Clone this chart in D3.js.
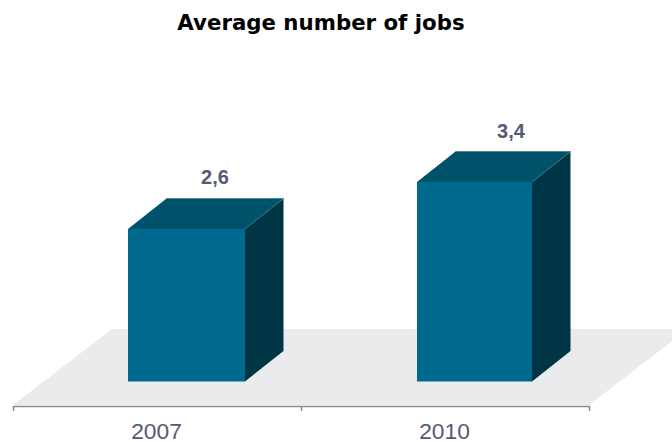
<!DOCTYPE html>
<html>
<head>
<meta charset="utf-8">
<script src="https://cdn.jsdelivr.net/npm/d3@7"></script>
<style>
html,body{margin:0;padding:0;background:#fff;overflow:hidden;}
svg{display:block;}
</style>
</head>
<body>
<svg id="chart" width="672" height="442"></svg>
<script>
const titleText = "Average number of jobs";
const years = ["2007", "2010"];
const averages = [2.6, 3.4];
const valueLabels = ["2,6", "3,4"];

const palette = {
  front: "#006a8e", top: "#00526b", side: "#003546",
  edge: "#3d7488", floor: "#eaebed", axis: "#868a93", text: "#535b72"
};

const svg = d3.select("#chart");

// Oblique projection: the depth of the 3D scene shifts marks up and to the right
const depth = { dx: 38.5, dy: -30.5 };
const axisY = 406;

const x = d3.scaleBand().domain(years).range([13.5, 589.5]);
const y = d3.scaleLinear().domain([0, 3.4]).range([381.5, 182]);

// Bar faces narrow slightly toward the right of the scene
const barLeft = d3.scalePoint().domain(years).range([128, 417]);
const barRight = d3.scalePoint().domain(years).range([245, 532]);

// Value labels drift right with bar height
const labelShift = d3.scaleLinear().domain(averages).range([57.5, 65.5]);

// Floor plane, running off the right of the canvas
const [x0, x1] = x.range();
svg.append("path")
  .attr("d", d3.line()([[x0 - 0.5, axisY - 1], [x0 + 98.5, 329], [x1 + 98.5, 329], [x1 - 0.5, axisY - 1]]) + "Z")
  .attr("fill", palette.floor);

// Bars: side, top and front faces
const bars = svg.selectAll("g.bar")
  .data(years.map((year, i) => ({ year, value: averages[i], label: valueLabels[i] })))
  .join("g").attr("class", "bar");

const face = d3.line();

bars.append("path")
  .attr("d", d => {
    const r = barRight(d.year), t = y(d.value), b = y(0);
    return face([[r, t], [r + depth.dx, t + depth.dy], [r + depth.dx, b + depth.dy], [r, b]]) + "Z";
  })
  .attr("fill", palette.side);

bars.append("path")
  .attr("d", d => {
    const l = barLeft(d.year), r = barRight(d.year), t = y(d.value);
    return face([[l, t], [l + depth.dx, t + depth.dy], [r + depth.dx, t + depth.dy], [r, t]]) + "Z";
  })
  .attr("fill", palette.top);

// Thin highlight along the far edges of the top face
bars.append("path")
  .attr("d", d => {
    const l = barLeft(d.year), r = barRight(d.year), t = y(d.value);
    return face([[l + depth.dx, t + depth.dy], [r + depth.dx, t + depth.dy], [r, t]]);
  })
  .attr("fill", "none").attr("stroke", palette.edge).attr("stroke-width", 0.7);

bars.append("rect")
  .attr("x", d => barLeft(d.year))
  .attr("y", d => y(d.value))
  .attr("width", d => barRight(d.year) - barLeft(d.year))
  .attr("height", d => y(0) - y(d.value))
  .attr("fill", palette.front);

// Value labels above each bar
bars.append("text")
  .attr("x", d => x(d.year) + x.bandwidth() / 2 + labelShift(d.value))
  .attr("y", d => y(d.value) - 44.5)
  .attr("text-anchor", "middle")
  .attr("font-family", "'Liberation Sans', Arial, sans-serif")
  .attr("font-weight", "bold")
  .attr("font-size", 20)
  .attr("fill", palette.text)
  .text(d => d.label);

// Category axis with ticks on the band boundaries
const axis = svg.append("g")
  .attr("transform", `translate(-1,${axisY})`)
  .call(d3.axisBottom(x).tickSize(0).tickPadding(17));
axis.select(".domain")
  .attr("transform", "translate(1,0)")
  .attr("stroke", palette.axis).attr("stroke-width", 1.5);
axis.selectAll("text")
  .attr("font-family", "'Liberation Sans', Arial, sans-serif")
  .attr("font-size", 22.8)
  .attr("fill", palette.text);

const boundaries = svg.append("g").attr("transform", `translate(0,${axisY})`);
boundaries.selectAll("line")
  .data([...years.map(d => x(d)), x1])
  .join("line")
  .attr("x1", d => d).attr("x2", d => d)
  .attr("y1", 0).attr("y2", 5)
  .attr("stroke", palette.axis).attr("stroke-width", 1.5);

// Chart title
svg.append("text")
  .attr("x", 321).attr("y", 30)
  .attr("text-anchor", "middle")
  .attr("font-family", "'DejaVu Sans', Verdana, sans-serif")
  .attr("font-weight", "bold")
  .attr("font-size", 21.3)
  .attr("fill", "#000")
  .text(titleText);
</script>
</body>
</html>
